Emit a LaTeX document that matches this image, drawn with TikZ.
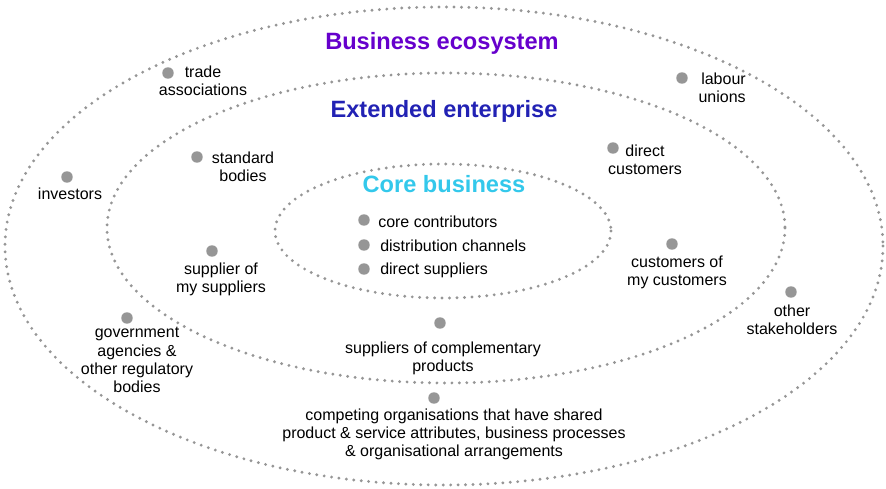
\documentclass[tikz,border=0pt]{standalone}
\usepackage{fontspec}
\setmainfont{Liberation Sans}
\usetikzlibrary{positioning}

\definecolor{ecoPurple}{RGB}{102,0,204}
\definecolor{extBlue}{RGB}{34,34,180}
\definecolor{coreCyan}{RGB}{51,200,235}
\definecolor{dotGray}{RGB}{150,150,150}

\begin{document}
\begin{tikzpicture}[x=0.75pt,y=-0.75pt,node distance=4pt]
  \tikzstyle{ring}=[draw=dotGray,line width=2.4pt,line cap=round,dash pattern=on 0pt off 5.6pt]
  \tikzstyle{bullet}=[circle,fill=dotGray,inner sep=0pt,minimum size=8.6pt]
  \tikzstyle{label}=[align=center,inner sep=0pt,font=\fontsize{12}{13.6}\selectfont]
  \tikzstyle{title}=[inner sep=0pt,font=\fontsize{17.7}{20}\selectfont\bfseries]

  \useasboundingbox (0,0) rectangle (886,489);

  % the three rings
  \draw[ring] (444,246) ellipse [x radius=439, y radius=239];
  \draw[ring] (446,228) ellipse [x radius=339, y radius=155];
  \draw[ring] (443,231) ellipse [x radius=168, y radius=67];

  \node[title,text=ecoPurple] (eco)  at (442,43)  {Business ecosystem};
  \node[title,text=extBlue]   (ext)  at (444,111) {Extended enterprise};
  \node[title,text=coreCyan]  (core) at (444,184) {Core business};

  % core business
  \node[bullet] (dCC) at (364,220) {};
  \node[bullet] (dDC) at (364,245) {};
  \node[bullet] (dDS) at (364,269) {};
  \node[label,anchor=west] (lCC) at (378,222) {core contributors};
  \node[label,anchor=west] (lDC) at (380,246) {distribution channels};
  \node[label,anchor=west] (lDS) at (380,270) {direct suppliers};

  % extended enterprise
  \node[bullet] (dSB) at (197,157) {};
  \node[label] (lSB) at (243,167) {standard\\ bodies};
  \node[bullet] (dDCu) at (613,148) {};
  \node[label] (lDCu) at (645,160) {direct\\ customers};
  \node[bullet] (dSS) at (212,251) {};
  \node[label] (lSS) at (221,279) {supplier of\\ my suppliers};
  \node[bullet] (dCMC) at (672,244) {};
  \node[label] (lCMC) at (677,272) {customers of\\ my customers};
  \node[bullet] (dSCP) at (440,323) {};
  \node[label] (lSCP) at (443,358) {suppliers of complementary\\ products};

  % business ecosystem
  \node[bullet] (dTA) at (168,73) {};
  \node[label] (lTA) at (203,81) {trade\\ associations};
  \node[bullet] (dLU) at (682,78) {};
  \node[label,align=right,anchor=east] (lLU) at (746,88) {labour\\ unions};
  \node[bullet] (dInv) at (67,177) {};
  \node[label] (lInv) at (70,194) {investors};
  \node[bullet] (dOS) at (791,292) {};
  \node[label] (lOS) at (792,320) {other\\ stakeholders};
  \node[bullet] (dGov) at (127,318) {};
  \node[label] (lGov) at (137,360) {government\\ agencies \&\\ other regulatory\\ bodies};
  \node[bullet] (dComp) at (434,398) {};
  \node[label] (lComp) at (454,434) {competing organisations that have shared\\ product \& service attributes, business processes\\ \& organisational arrangements};
\end{tikzpicture}
\end{document}
